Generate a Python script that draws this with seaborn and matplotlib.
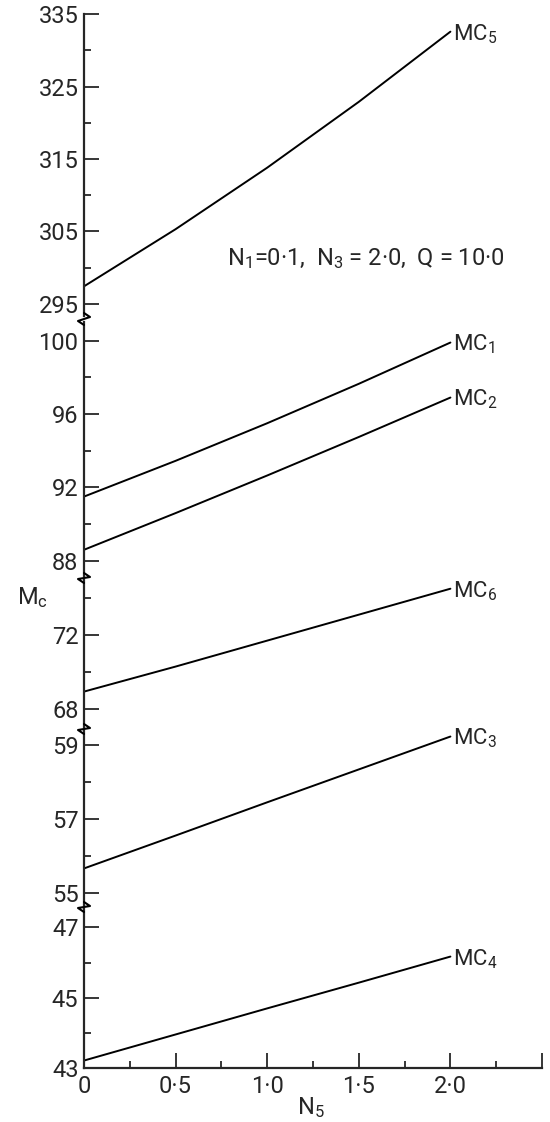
import numpy as np
import pandas as pd
import matplotlib
matplotlib.use("Agg")
import matplotlib.pyplot as plt
from matplotlib.lines import Line2D
from matplotlib.ticker import FixedLocator, MultipleLocator
import seaborn as sns

# Values
n5 = [0.0, 0.5, 1.0, 1.5, 2.0]
mc5 = [297.4, 305.3, 313.8, 322.9, 332.6]
mc1 = [91.5, 93.45, 95.5, 97.65, 99.9]
mc2 = [88.6, 90.6, 92.65, 94.75, 96.9]
mc6 = [68.95, 70.3, 71.7, 73.1, 74.5]
mc3 = [55.66, 56.55, 57.45, 58.34, 59.23]
mc4 = [43.22, 43.96, 44.70, 45.43, 46.17]

# tick values of each axis segment
ticks_seg = [[295, 305, 315, 325, 335], [88, 92, 96, 100], [68, 72], [55, 57, 59], [43, 45, 47]]
minor_seg = [[300, 310, 320, 330], [90, 94, 98], [70, 74], [56, 58], [44, 46]]
xtick_vals = [0, 0.5, 1.0, 1.5, 2.0, 2.5]
xtick_labels = ["0", "0·5", "1·0", "1·5", "2·0", ""]

series = {"5": mc5, "1": mc1, "2": mc2, "6": mc6, "3": mc3, "4": mc4}
df = pd.concat([pd.DataFrame({"N5": n5, "Mc": v, "curve": k}) for k, v in series.items()],
               ignore_index=True)

# panel layout: (curves, pixel top, pixel bottom, ylim)
panels = [
    (["5"], 14.3, 316, (293.3, 335)),
    (["1", "2"], 322, 576, (87.17, 101.02)),
    (["6"], 580, 727, (67.04, 74.97)),
    (["3"], 731, 905, (54.67, 59.38)),
    (["4"], 909, 1068.3, (43, 47.52)),
]

sns.set_theme(style="ticks")
plt.rcParams["font.family"] = ["Roboto", "DejaVu Sans"]
plt.rcParams["mathtext.fontset"] = "custom"
plt.rcParams["mathtext.rm"] = "Roboto"
plt.rcParams["mathtext.it"] = "Roboto"

W, H = 550, 1122
fig = plt.figure(figsize=(W / 100, H / 100), dpi=100)
x0, x1 = 84, 542

axes = []
for i, (curves, top, bot, ylim) in enumerate(panels):
    ax = fig.add_axes([x0 / W, 1 - bot / H, (x1 - x0) / W, (bot - top) / H])
    sub = df[df["curve"].isin(curves)]
    sns.lineplot(data=sub, x="N5", y="Mc", units="curve", estimator=None,
                 color="black", lw=1.4, ax=ax)
    for k in curves:
        ax.annotate("MC$_{%s}$" % k, xy=(n5[-1], series[k][-1]), xytext=(2, -6),
                    textcoords="offset points", ha="left", va="baseline", fontsize=16)
    ax.set_xlim(0, 2.5)
    ax.set_ylim(*ylim)
    ax.yaxis.set_major_locator(FixedLocator(ticks_seg[i]))
    ax.yaxis.set_minor_locator(FixedLocator(minor_seg[i]))
    ax.set_yticklabels([str(t) for t in ticks_seg[i]])
    ax.tick_params(axis="y", which="major", direction="in", length=11, width=1.3,
                   labelsize=17, pad=4)
    ax.tick_params(axis="y", which="minor", direction="in", length=5, width=1.3)
    for s in ["top", "right"]:
        ax.spines[s].set_visible(False)
    ax.spines["left"].set_linewidth(1.6)
    ax.set_xlabel("")
    ax.set_ylabel("")
    ax.patch.set_alpha(0)
    if i < len(panels) - 1:
        ax.spines["bottom"].set_visible(False)
        ax.set_xticks([])
        ax.xaxis.set_minor_locator(plt.NullLocator())
    else:
        ax.spines["bottom"].set_linewidth(1.6)
        ax.set_xticks(xtick_vals)
        ax.set_xticklabels(xtick_labels)
        ax.xaxis.set_minor_locator(MultipleLocator(0.25))
        ax.tick_params(axis="x", which="major", direction="in", length=11, width=1.3,
                       labelsize=17, pad=5)
        ax.tick_params(axis="x", which="minor", direction="in", length=5, width=1.3)
    axes.append(ax)

axes[0].text(0.78, 300.4, "N$_1$=0·1,  N$_3$ = 2·0,  Q = 10·0", fontsize=17,
             ha="left", va="baseline")

# break marks on the y spine
for i in range(len(panels) - 1):
    ya = panels[i][2]
    yb = panels[i + 1][1]
    xs = np.array([x0, x0 + 6, x0 - 6, x0]) / W
    ys = 1 - np.array([ya - 3, ya + 1, yb - 1, yb + 3]) / H
    fig.add_artist(Line2D(xs, ys, color="black", lw=1.5, transform=fig.transFigure))

fig.text(17 / W, 1 - 604 / H, "M$_\\mathrm{c}$", fontsize=17, ha="left", va="baseline")
fig.text(297 / W, 1 - 1114 / H, "N$_5$", fontsize=17, ha="left", va="baseline")

fig.savefig("out.png", dpi=100)
